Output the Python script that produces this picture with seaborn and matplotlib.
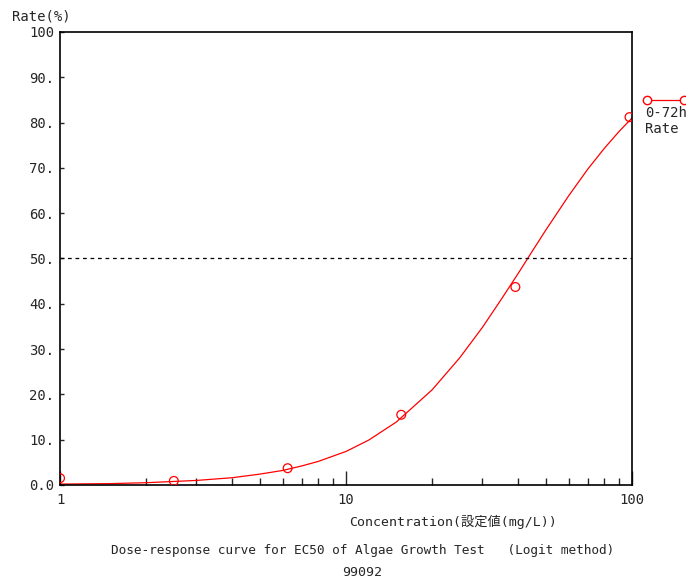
import numpy as np
import pandas as pd
import seaborn as sns
import matplotlib
matplotlib.use("Agg")
import matplotlib.pyplot as plt
from matplotlib.lines import Line2D
from matplotlib.ticker import FixedLocator, NullFormatter

sns.set_style("ticks")
plt.rcParams["font.family"] = ["DejaVu Sans Mono", "Noto Sans CJK JP"]

# observed points
conc = [1.0, 2.5, 6.25, 15.6, 39.1, 98.0]
rate = [1.5, 0.9, 3.7, 15.5, 43.7, 81.2]

# fitted logit curve
curve_conc = [1.0, 1.5, 2, 3, 4, 5, 6, 7, 8, 10, 12, 15, 20, 25, 30, 35, 40, 45, 50, 60, 70, 80, 90, 100]
curve_rate = [0.2, 0.3, 0.5, 1.0, 1.6, 2.4, 3.2, 4.2, 5.2, 7.4, 9.9, 13.9, 21.0, 28.1, 34.8,
              41.1, 46.7, 51.8, 56.3, 63.8, 69.7, 74.3, 78.0, 81.0]

y_ticks = [0, 10, 20, 30, 40, 50, 60, 70, 80, 90, 100]
y_labels = ["0.0", "10.", "20.", "30.", "40.", "50.", "60.", "70.", "80.", "90.", "100"]
x_ticks = [1, 10, 100]
x_labels = ["1", "10", "100"]
x_minor = [2, 3, 4, 5, 6, 7, 8, 9, 20, 30, 40, 50, 60, 70, 80, 90]

RED = "#ff0000"

points = pd.DataFrame({"conc": conc, "rate": rate})
curve = pd.DataFrame({"conc": curve_conc, "rate": curve_rate})

fig = plt.figure(figsize=(6.86, 5.79), dpi=100)
ax = fig.add_axes([0.0875, 0.1624, 0.8338, 0.7824])

sns.lineplot(data=curve, x="conc", y="rate", color=RED, linewidth=0.9, ax=ax)
sns.scatterplot(data=points, x="conc", y="rate", marker="o", s=40,
                facecolor="none", edgecolor=RED, linewidth=0.9, ax=ax, zorder=3)
ax.axhline(50, color="black", linestyle=(0, (3, 3)), linewidth=0.9)

ax.set_xscale("log")
ax.set_xlim(1, 100)
ax.set_ylim(0, 100)
ax.set_xticks(x_ticks)
ax.set_xticklabels(x_labels)
ax.xaxis.set_minor_locator(FixedLocator(x_minor))
ax.xaxis.set_minor_formatter(NullFormatter())
ax.set_yticks(y_ticks)
ax.set_yticklabels(y_labels)
ax.tick_params(axis="x", which="major", direction="in", length=10, width=1, labelsize=10, pad=6)
ax.tick_params(axis="x", which="minor", direction="in", length=5, width=1)
ax.tick_params(axis="y", which="major", direction="in", length=3, width=1, labelsize=10, pad=4)
for sp in ax.spines.values():
    sp.set_visible(True)
    sp.set_color("black")
    sp.set_linewidth(1.2)
ax.set_xlabel("")
ax.set_ylabel("")

fig.text(0.018, 0.972, "Rate(%)", fontsize=10, ha="left", va="center")
fig.text(0.66, 0.098, "Concentration(設定値(mg/L))", fontsize=9.5, ha="center", va="center")
fig.text(0.528, 0.049, "Dose-response curve for EC50 of Algae Growth Test   (Logit method)",
         fontsize=9.2, ha="center", va="center")
fig.text(0.528, 0.012, "99092", fontsize=9.5, ha="center", va="center")

# legend outside on the right
fig.add_artist(Line2D([0.943, 0.997], [0.827, 0.827], transform=fig.transFigure,
                      color=RED, linewidth=0.9, marker="o", markersize=6,
                      markerfacecolor="white", markeredgecolor=RED))
fig.text(0.94, 0.791, "0-72h\nRate", fontsize=10, ha="left", va="center", linespacing=1.1)

fig.savefig("out.png", dpi=100)
